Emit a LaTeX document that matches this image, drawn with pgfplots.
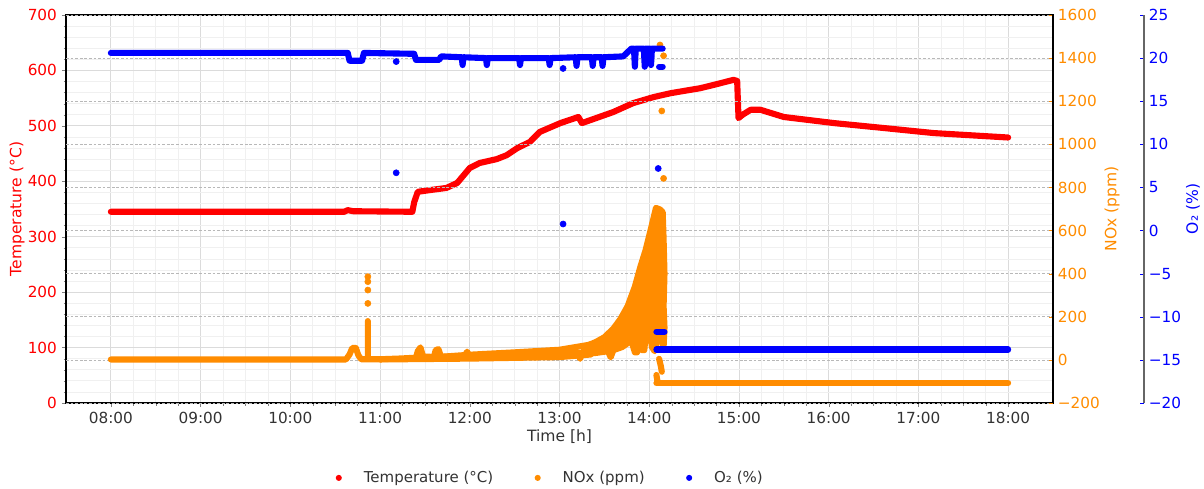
\documentclass[border=0pt]{standalone}
\usepackage{fontspec}
\setmainfont{DejaVu Sans}
\usepackage{pgfplots}
\pgfplotsset{compat=1.18}
\definecolor{tc}{HTML}{FF0000}
\definecolor{nc}{HTML}{FF8C00}
\definecolor{oc}{HTML}{0000FF}
\definecolor{txt}{HTML}{333333}

% 1 px of the reference = 0.72pt
\pgfplotsset{
  base/.style={
    scale only axis, width=710.64pt, height=279.36pt,
    at={(47.52pt,61.2pt)}, anchor=south west,
    xmin=7.5, xmax=18.5,
    /pgf/number format/assume math mode=true,
    tick label style={font=\fontsize{11}{13}\selectfont},
    axis line style={line width=0.8pt},
  },
  band/.style={line width=4.4pt, line cap=round, line join=round},
  dot/.style={only marks, mark=*, mark size=2.2pt},
}

\begin{document}
\begin{tikzpicture}[x=1pt,y=1pt]
\path[use as bounding box] (0,0) rectangle (866.88,351.36);

% ---- temperature, main axis
\begin{axis}[base,
  ymin=0, ymax=700,
  xtick={8,9,...,18},
  xticklabels={08:00,09:00,10:00,11:00,12:00,13:00,14:00,15:00,16:00,17:00,18:00},
  minor x tick num=3,
  ytick={0,100,...,700},
  minor y tick num=4,
  tick pos=left, tick align=outside,
  major tick length=3pt, minor tick length=1.8pt,
  grid=both,
  major grid style={draw=black!14, line width=0.6pt},
  minor grid style={draw=black!6, line width=0.5pt},
  yticklabel style={text=tc},
  xticklabel style={text=txt},
  every axis x label/.style={at={(axis description cs:0.5,-0.0876)}, anchor=center,
    text=txt, font=\fontsize{11.2}{13}\selectfont},
  every axis y label/.style={at={(axis description cs:-0.0496,0.5)}, anchor=center,
    rotate=90, text=tc, font=\fontsize{11.2}{13}\selectfont},
  xlabel={Time [h]}, ylabel={Temperature (°C)},
  legend columns=3,
  legend style={at={(0.491,-0.193)}, anchor=center, draw=none, fill=none,
    font=\fontsize{10.8}{13}\selectfont, text=txt,
    /tikz/every even column/.append style={column sep=27.8pt}},
]
\addplot[tc, band, forget plot] coordinates {
  (8.00,345) (10.60,345) (10.64,348) (10.70,346) (11.36,345) (11.38,362)
  (11.42,381) (11.55,384) (11.74,388) (11.86,397) (12.00,424) (12.11,433)
  (12.30,440) (12.41,447) (12.53,460) (12.67,471) (12.78,489) (13.01,505)
  (13.21,516) (13.25,505) (13.60,525) (13.82,541) (14.05,552) (14.24,559)
  (14.57,568) (14.72,574) (14.94,583) (14.98,581) (14.995,514) (15.04,520)
  (15.13,529) (15.24,529) (15.50,516) (16.06,505) (16.62,496) (17.17,487)
  (18.00,479)
};
\addlegendimage{legend image code/.code={\fill[tc,draw=none] (0pt,0pt) circle (2.2pt); \path[draw=none,fill=none] (-2.2pt,-3pt) rectangle (16pt,3pt);}}
\addlegendentry{Temperature (°C)}
\addlegendimage{legend image code/.code={\fill[nc,draw=none] (0pt,0pt) circle (2.2pt); \path[draw=none,fill=none] (-2.2pt,-3pt) rectangle (16pt,3pt);}}
\addlegendentry{NOx (ppm)}
\addlegendimage{legend image code/.code={\fill[oc,draw=none] (0pt,0pt) circle (2.2pt); \path[draw=none,fill=none] (-2.2pt,-3pt) rectangle (16pt,3pt);}}
\addlegendentry{O₂ (\%)}
\end{axis}

% ---- NOx, right axis
\begin{axis}[base,
  ymin=-200, ymax=1600,
  axis x line=none, axis y line*=right,
  y axis line style={-},
  ytick={-200,0,...,1600},
  yticklabels={−200,0,200,400,600,800,1000,1200,1400,1600},
  tick align=inside, major tick length=3pt,
  ytick style={color=nc},
  yticklabel style={text=nc},
  ymajorgrids,
  major grid style={draw=black!28, line width=0.5pt, dash pattern=on 2pt off 1.3pt},
  every axis y label/.style={at={(axis description cs:1.0598,0.5)}, anchor=center,
    rotate=90, text=nc, font=\fontsize{11.2}{13}\selectfont},
  ylabel={NOx (ppm)},
]
\addplot[nc, band] coordinates {
  (8.00,2) (10.62,2) (10.66,25) (10.69,55) (10.73,55) (10.76,20) (10.79,3)
  (10.864,3) (10.864,180) (10.864,3) (11.00,3) (11.20,6) (11.40,10) (11.42,40)
  (11.45,58) (11.48,15) (11.60,14) (11.62,45) (11.65,50) (11.68,15) (11.94,16)
  (11.97,38) (12.00,16) (12.50,22) (13.00,30) (13.20,35) (13.23,5) (13.26,40)
  (13.35,45)
};
\addplot[nc, band] coordinates {(11.00,2) (12.00,6) (13.00,13) (13.35,25)};
\addplot[nc, band] coordinates {(11.70,15) (12.00,24) (12.50,35) (13.00,47) (13.36,72)};
\addplot[nc, band, fill=nc] coordinates {
  (13.30,65) (13.40,82) (13.50,105) (13.60,145) (13.68,190) (13.76,250)
  (13.84,340) (13.90,430) (13.96,510) (14.02,610) (14.075,705) (14.12,698)
  (14.15,685) (14.16,560) (14.17,400) (14.16,250) (14.17,150) (14.16,60)
  (14.13,110) (14.09,90) (14.06,40) (14.03,60) (14.00,150) (13.96,110)
  (13.945,45) (13.92,45) (13.90,130) (13.865,35) (13.84,35) (13.80,90)
  (13.70,60) (13.60,45) (13.57,12) (13.54,40) (13.40,32) (13.30,30)
} -- cycle;
\addplot[nc, band] coordinates {(14.11,5) (14.13,-30) (14.14,-55)};
\addplot[nc, band] coordinates {(14.08,-70) (14.09,-95)};
\addplot[nc, band] coordinates {(14.08,-108) (18.00,-108)};
\addplot[nc, dot] coordinates {
  (10.864,386) (10.864,363) (10.864,324) (10.864,262)
  (14.12,1461) (14.16,1411) (14.14,1155) (14.16,842)
};
\end{axis}

% ---- O2, outer right axis (wider box, same x scale)
\begin{axis}[base,
  width=776.16pt, xmax=19.5142,
  ymin=-20, ymax=25,
  axis x line=none, axis y line*=right,
  y axis line style={-, draw=black!60},
  ytick={-20,-15,...,25},
  yticklabels={−20,−15,−10,−5,0,5,10,15,20,25},
  tick align=inside, major tick length=3pt,
  ytick style={color=oc},
  yticklabel style={text=oc},
  every axis y label/.style={at={(axis description cs:1.0455,0.5)}, anchor=center,
    rotate=90, text=oc, font=\fontsize{11.2}{13}\selectfont},
  ylabel={O₂ (\%)},
]
\addplot[oc, band] coordinates {
  (8.00,20.6) (10.64,20.6) (10.66,19.7) (10.80,19.7) (10.82,20.6) (11.38,20.5)
  (11.40,19.8) (11.66,19.8) (11.68,20.2) (11.91,20.1) (11.92,19.2) (11.93,20.1)
  (12.18,20.0) (12.19,19.2) (12.20,20.0) (12.55,20.0) (12.56,19.2) (12.57,20.0)
  (12.88,20.0) (12.89,19.2) (12.90,20.0) (13.18,20.1) (13.19,19.1) (13.20,20.1)
  (13.36,20.1) (13.37,19.1) (13.38,20.1) (13.47,20.1) (13.48,19.1) (13.49,20.1)
  (13.71,20.2) (13.80,21.1) (13.83,21.1) (13.84,19.0) (13.85,21.1) (13.94,21.1)
  (13.95,19.0) (13.96,21.1) (14.01,21.1) (14.02,19.2) (14.03,21.1) (14.15,21.1)
};
\addplot[oc, band] coordinates {(14.11,19.0) (14.15,19.0)};
\addplot[oc, band] coordinates {(14.08,-11.73) (14.17,-11.73)};
\addplot[oc, band] coordinates {(14.08,-13.8) (18.00,-13.8)};
\addplot[oc, dot] coordinates {
  (11.18,19.6) (11.18,6.7) (13.04,18.8) (13.04,0.76) (14.10,7.2)
};
\end{axis}
\end{tikzpicture}
\end{document}
